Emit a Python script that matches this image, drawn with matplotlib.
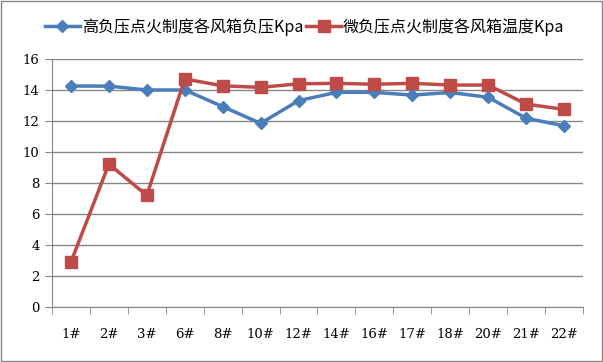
import matplotlib.pyplot as plt
from matplotlib.patches import Rectangle
import numpy as np

plt.rcParams['font.family'] = ['Noto Sans CJK SC', 'DejaVu Sans']

categories = ['1#', '2#', '3#', '6#', '8#', '10#', '12#', '14#', '16#', '17#', '18#', '20#', '21#', '22#']
high_neg = [14.26, 14.25, 14.0, 14.0, 12.93, 11.85, 13.31, 13.85, 13.85, 13.67, 13.84, 13.53, 12.18, 11.69]
micro_neg = [2.91, 9.22, 7.2, 14.71, 14.27, 14.17, 14.4, 14.43, 14.37, 14.43, 14.32, 14.32, 13.09, 12.75]
labels = ['高负压点火制度各风箱负压Kpa', '微负压点火制度各风箱温度Kpa']

fig = plt.figure(figsize=(6.03, 3.62), dpi=100)
ax = fig.add_axes([52 / 603, 1 - 307 / 362, (583 - 52) / 603, (307 - 59) / 362])

x = np.arange(len(categories))
ax.plot(x, high_neg, color='#4A7EBB', lw=2.5, marker='D', ms=6, label=labels[0])
ax.plot(x, micro_neg, color='#BE4B48', lw=2.5, marker='s', ms=9, label=labels[1])

ax.set_xlim(-0.5, len(categories) - 0.5)
ax.set_ylim(0, 16)
ax.set_yticks(range(0, 17, 2))
ax.yaxis.grid(True, color='#868686', lw=1)
ax.set_axisbelow(True)

ax.set_xticks(x)
ax.set_xticklabels(categories, fontsize=9.5, family='DejaVu Serif')
ax.set_xticks(np.arange(-0.5, len(categories)), minor=True)
ax.tick_params(axis='x', which='major', length=0, pad=15)
ax.tick_params(axis='x', which='minor', length=5, color='#868686', direction='out')
ax.tick_params(axis='y', length=5, color='#868686', labelsize=9.5, pad=4)
for lab in ax.get_yticklabels():
    lab.set_family('DejaVu Serif')

for s in ['top', 'right']:
    ax.spines[s].set_visible(False)
for s in ['left', 'bottom']:
    ax.spines[s].set_color('#868686')

fig.legend(loc='upper center', bbox_to_anchor=(0.505, 0.99), ncol=2, frameon=False,
           fontsize=11.5, handlelength=2.2, columnspacing=0.2, handletextpad=0.1)

fig.patches.append(Rectangle((0.002, 0.003), 0.996, 0.994, transform=fig.transFigure,
                             fill=False, edgecolor='#868686', lw=1))

fig.savefig('out.png', dpi=100)
